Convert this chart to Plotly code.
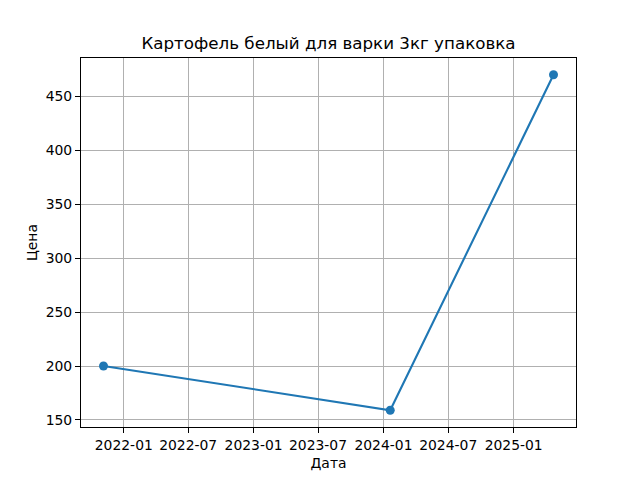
import pandas as pd
import plotly.graph_objects as go

dates = ["2021-11-05", "2024-01-20", "2025-04-23"]
prices = [200, 159, 470]
title = "Картофель белый для варки 3кг упаковка"
x_label = "Дата"
y_label = "Цена"

ts = pd.to_datetime(dates)
span = ts.max() - ts.min()
xr = [ts.min() - span * 0.05, ts.max() + span * 0.05]
ysp = max(prices) - min(prices)
yr = [min(prices) - ysp * 0.05, max(prices) + ysp * 0.05]

font = "DejaVu Sans"
fig = go.Figure(go.Scatter(
    x=ts, y=prices, mode="lines+markers",
    line=dict(color="#1f77b4", width=2.1),
    marker=dict(color="#1f77b4", size=9),
    hoverinfo="skip",
))

axis_common = dict(
    showline=True, linecolor="black", linewidth=1.1, mirror=True,
    showgrid=True, gridcolor="#b0b0b0", gridwidth=1.1,
    ticks="outside", ticklen=5, tickwidth=1.1, tickcolor="black",
    tickfont=dict(family=font, size=13.9, color="black"),
    zeroline=False,
)
fig.update_layout(
    width=640, height=480,
    margin=dict(l=81, r=64, t=58, b=53),
    paper_bgcolor="white", plot_bgcolor="white",
    showlegend=False,
    title=dict(text=title, x=0.5, xanchor="center", xref="paper",
               y=1 - 43 / 480, yanchor="middle", yref="container",
               font=dict(family=font, size=16.7, color="black")),
    xaxis=dict(axis_common, type="date", range=xr, tick0="2022-01-01", dtick="M6",
               tickformat="%Y-%m",
               title=dict(text=x_label, font=dict(family=font, size=13.9, color="black"), standoff=6)),
    yaxis=dict(axis_common, range=yr, dtick=50, tick0=0,
               title=dict(text=y_label, font=dict(family=font, size=13.9, color="black"), standoff=4)),
)
fig.write_html("out.html", config={"displayModeBar": False},
               post_script="document.body.style.margin='0';")
